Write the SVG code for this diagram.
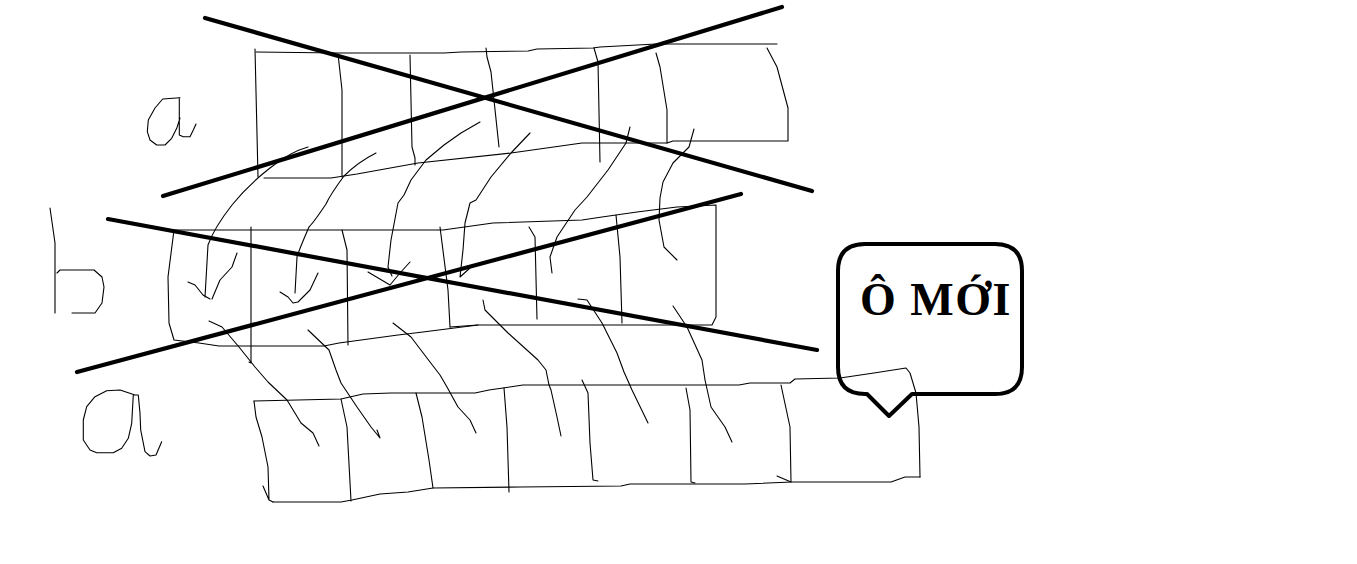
<svg xmlns="http://www.w3.org/2000/svg" width="1357" height="564" viewBox="0 0 1357 564">
<style>
.t{fill:none;stroke:#000;stroke-width:1.1;stroke-linejoin:round;stroke-linecap:round}
.k{fill:none;stroke:#000;stroke-width:4.2;stroke-linecap:round}
.bub{fill:none;stroke:#000;stroke-width:4;stroke-linejoin:round}
.lbl{font-family:"Liberation Serif","Times New Roman",serif;font-weight:bold;font-size:46px;letter-spacing:1.5px;fill:#000}
</style>
<rect width="1357" height="564" fill="#fff"/>
<g id="letters">
<path class="t" d="M180,97.7 L162.7,99 L155,108 L148.3,120 L147.3,131.7 L150,140 L156.7,145 L165,145 L171.7,138.3 L176.7,128.3 L180,118 M179.3,97.7 L179.3,135 L183.3,136.7 L190,136.7 L193.3,130 L196,124"/>
<path class="t" d="M50,208 L55,243 L55,313 M57,273 L60,270 L94,270 L102,277 L104,287 L102,303 L95,313 L72,313"/>
<path class="t" d="M135,395 L120,390 L106.7,390.7 L95,396.7 L86.7,406.7 L83.3,420 L83.3,440 L90,450 L96.7,452.7 L113.3,452.7 L121.7,448.3 L128.3,438.3 L131.7,423.3 L133.3,395 L138.3,395 L140,413.3 L140.7,430 L145,451.7 L150,456 L156,455 L161.7,441.7"/>
</g>
<g id="box-a-top">
<path class="t" d="M256,52 L338,53 L444,53 L461,52 L528,51 L537,49 L593,48 L600,47 L656,44 L777,44"/>
<path class="t" d="M767,48 L777,67 L788,108 L788,141 L673,141 L667,143 L582,143 L511,153 L418,163 L357,174 L331,178 L264,178"/>
<path class="t" d="M255,49 L258,177"/>
<path class="t" d="M338,54 L342,90 L342,177 M410,55 L412,147 L415,158 L415,165 M486,48 L487,57 L491,72 L499,147 M594,48 L598,62 L600,162 M656,53 L660,67 L667,110 L667,143"/>
</g>
<g id="box-b">
<path class="t" d="M174,230 L443,230 L493,223 L582,220 L602,217 L637,212 L677,207 L716,205 L716,317 L712,325 L478,325 L450,327"/>
<path class="t" d="M478,325 L423,332 L398,335 L339,343 L324,346 L219,346 L199,343 L174,340 L169,323 L168,277 L174,230"/>
<path class="t" d="M251,227 L251,363 L249,362 M342,230 L347,250 L348,345 M440,227 L448,290 L450,327 M529,227 L535,237 L537,319 M616,215 L620,257 L622,323"/>
</g>
<g id="box-a-bottom">
<path class="t" d="M254,401 L341,399 L363,394 L391,393 L475,393 L489,390 L503,388 L523,385 L739,385 L750,383 L790,383 L795,379 L840,378 L874,373 L906,368 L910,373 L916,393 L919,427 L920,477"/>
<path class="t" d="M920,477 L905,477 L891,482 L792,482 L745,484 L630,484 L621,486 L520,487 L433,488 L408,492 L380,494 L352,500 L341,502 L273,502"/>
<path class="t" d="M254,401 L256,417 L262,437 L268,467 L269,500 L273,502 M263,486 L269,500"/>
<path class="t" d="M341,399 L347,427 L351,501 M416,393 L422,417 L429,460 L433,488 M504,388 L507,427 L509,492 M582,380 L588,393 L590,443 L593,480 L598,481 M686,388 L690,410 L691,482 L695,483 M781,385 L790,427 L791,482 M777,476 L791,482"/>
</g>
<g id="connectors">
<path class="t" d="M308,147 Q290,152 270,168 Q248,185 232,205 Q214,228 208,245 L205,297 M188,282 L195,285 L203,295 L210,299 M237,253 L232,267 L220,280 L212,299"/>
<path class="t" d="M376,153 Q358,162 344,176 Q330,195 326,204 Q314,222 309,227 Q299,250 297,257 L295,293 M280,292 L288,297 L293,303 L298,302 L310,290 L318,273"/>
<path class="t" d="M480,122 L461,133 L444,145 L426,160 L411,180 L404,195 L398,203 L391,240 L388,267 L392,276 M410,262 L400,273 L390,285 M368,272 L390,285"/>
<path class="t" d="M530,133 L511,153 L491,177 L476,200 L470,203 L465,223 L463,250 L460,277 L470,268"/>
<path class="t" d="M630,127 L626,143 L608,170 L587,197 L575,210 L557,237 L550,257 L552,273"/>
<path class="t" d="M694,129 L689,147 L673,163 L663,182 L660,198 L659,220 L664,247 L677,260"/>
<path class="t" d="M209,321 L222,327 L239,347 L255,367 L268,382 L287,400 L301,423 L313,433 L319,446"/>
<path class="t" d="M308,330 L329,350 L336,370 L341,383 L357,407 L371,427 L380,438 L377,430"/>
<path class="t" d="M393,323 L411,337 L430,362 L440,375 L447,387 L458,407 L470,420 L476,433"/>
<path class="t" d="M483,300 L485,310 L508,333 L538,360 L546,370 L549,385 L551,390 L557,417 L561,436"/>
<path class="t" d="M578,299 L587,300 L602,323 L617,353 L624,372 L632,390 L648,423"/>
<path class="t" d="M673,306 L687,327 L702,360 L705,380 L711,407 L725,427 L732,442"/>
</g>
<g id="strikes">
<path class="k" d="M205,18 L812,191 M163,196 L782,7 M108,219 L817,350 M77,372 L741,194"/>
</g>
<g id="callout">
<path class="bub" d="M865,244 L995,244 Q1022,244 1022,271 L1022,367 Q1022,394 995,394 L912,394 L889,416 L867,394 L865,394 Q838,394 838,367 L838,271 Q838,244 865,244 Z"/>
<text class="lbl" x="860" y="315">Ô MỚI</text>
</g>
</svg>
